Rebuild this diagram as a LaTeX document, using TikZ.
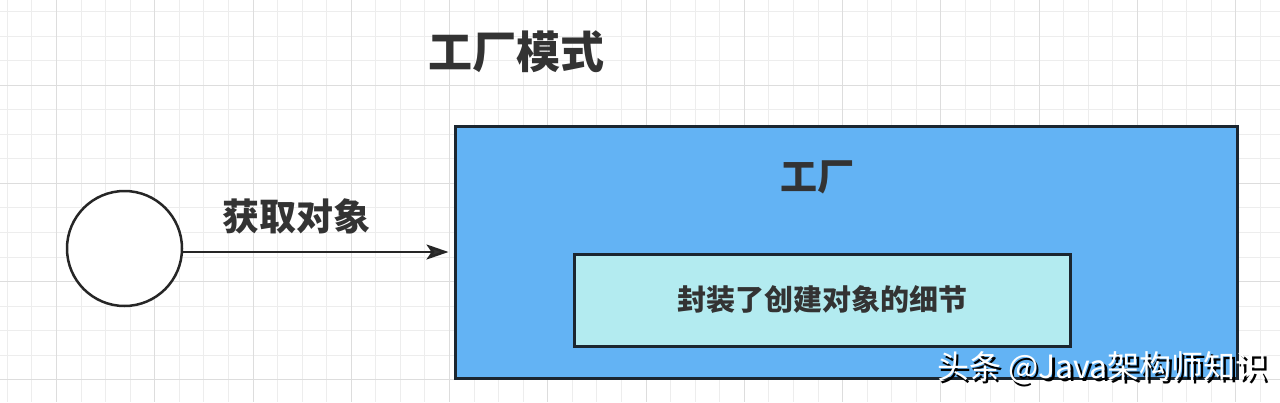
\documentclass[tikz,border=0pt]{standalone}
\usepackage{fontspec}
\setmainfont{Noto Sans CJK SC}
\usetikzlibrary{arrows.meta}
\definecolor{gridminor}{HTML}{EDEDED}
\definecolor{gridmajor}{HTML}{DDDDDD}
\definecolor{boxblue}{HTML}{63B3F4}
\definecolor{boxcyan}{HTML}{B3EBF0}
\definecolor{edgecol}{HTML}{1B2630}
\definecolor{txt}{HTML}{333333}
\tikzset{
  boxstyle/.style={draw=edgecol, line width=3pt, inner sep=0pt},
  labelstyle/.style={text=txt, inner sep=0pt, font=\bfseries},
  wmstyle/.style={anchor=east, inner sep=0pt, font=\fontsize{32}{34}\selectfont},
}
\begin{document}
\begin{tikzpicture}[x=1pt,y=-1pt]
\useasboundingbox (0,0) rectangle (1280,402);
\fill[white] (0,0) rectangle (1280,402);
% grid
\foreach \i in {0,...,51} { \draw[gridminor, line width=1pt] ({7.3+24.57*\i},0) -- ({7.3+24.57*\i},402); }
\foreach \j in {0,...,16} { \draw[gridminor, line width=1pt] (0,{11.5+24.55*\j}) -- (1280,{11.5+24.55*\j}); }
\foreach \i in {2,6,...,50} { \draw[gridmajor, line width=1pt] ({7.3+24.57*\i},0) -- ({7.3+24.57*\i},402); }
\foreach \j in {3,7,11,15} { \draw[gridmajor, line width=1pt] (0,{11.5+24.55*\j}) -- (1280,{11.5+24.55*\j}); }
% title
\node[labelstyle, font=\bfseries\fontsize{44}{48}\selectfont] (title) at (516.5,51.5) {工厂模式};
% circle
\node[circle, draw=black!85, line width=2.5pt, fill=white, minimum size=115pt, inner sep=0pt] (obj) at (124.5,248.5) {};
% factory box
\node[boxstyle, fill=boxblue, minimum width=782pt, minimum height=252pt] (factory) at (846,252) {};
\node[labelstyle, font=\bfseries\fontsize{37}{40}\selectfont] (factorylabel) at (817.5,177.5) {工厂};
% inner box
\node[boxstyle, fill=boxcyan, minimum width=496pt, minimum height=92pt, text=txt, font=\bfseries\fontsize{29}{32}\selectfont] (detail) at (822,300) {封装了创建对象的细节};
% arrow
\draw[line width=2.5pt, draw=black!85, -{Stealth[length=22pt,width=15pt,inset=5pt,fill=black!80]}, shorten >=5pt] (obj.east |- factory.west) -- (factory.west);
\node[labelstyle, font=\bfseries\fontsize{37}{40}\selectfont] (getlabel) at (296.5,216) {获取对象};
% watermark
\node[wmstyle, text=black] (wmshadow) at (1270.5,370.5) {头条 @Java架构师知识};
\node[wmstyle, text=white] (wm) at (1268,368) {头条 @Java架构师知识};
\end{tikzpicture}
\end{document}
